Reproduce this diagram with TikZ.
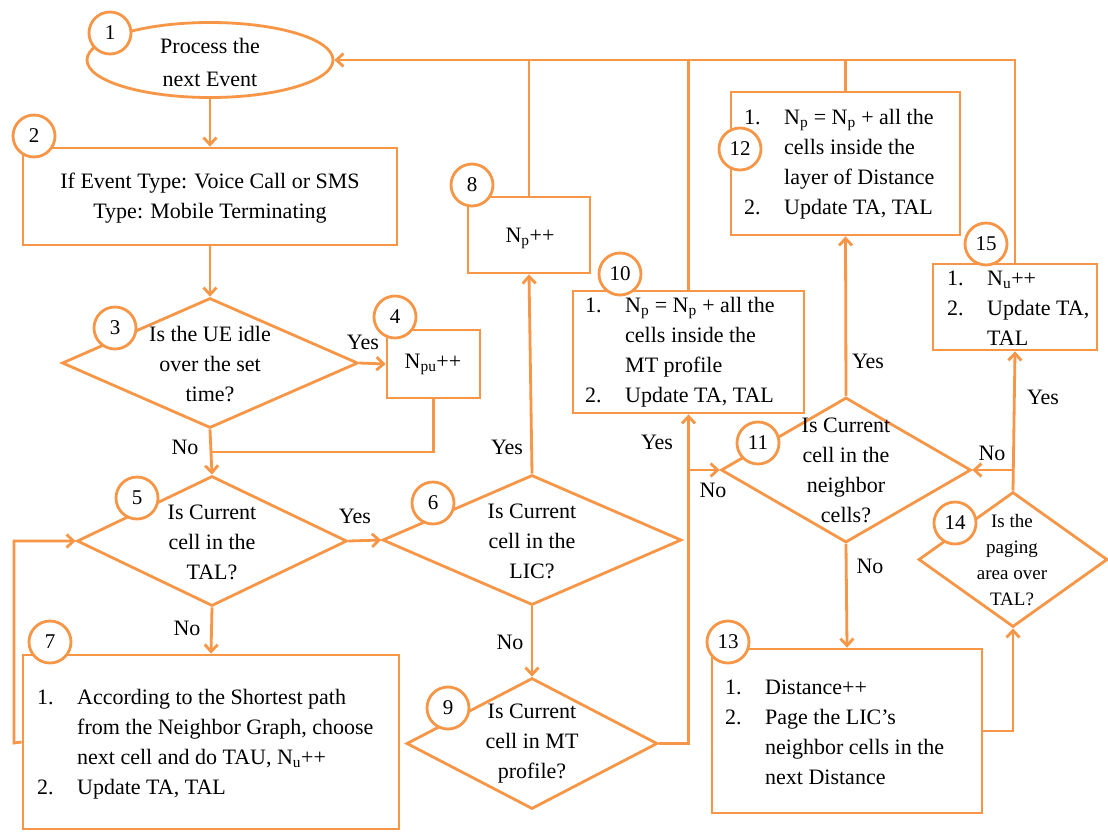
\documentclass[tikz,border=0pt]{standalone}
\usepackage{fontspec}
\setmainfont{Liberation Serif}
\usetikzlibrary{shapes.geometric,arrows.meta}
\definecolor{fc}{HTML}{F79646}
\newcommand\itno[1]{\makebox[40pt][l]{#1}}
\newcommand\ind{\hspace*{40pt}}
\begin{document}
\begin{tikzpicture}[x=1pt,y=-1pt,
  ln/.style={draw=fc,line width=2.8pt},
  arr/.style={ln,-{Straight Barb[length=7pt,width=13pt]}},
  box/.style={draw=fc,line width=2.8pt,rectangle,inner sep=0pt,fill=white},
  dia/.style={draw=fc,line width=2.8pt,diamond,inner sep=0pt,fill=white},
  oval/.style={draw=fc,line width=2.8pt,ellipse,inner sep=0pt,fill=white},
  num/.style={draw=fc,line width=2.8pt,circle,fill=white,minimum size=42pt,inner sep=0pt,font=\fontsize{21}{21}\selectfont},
  txt/.style={inner sep=0pt,align=center,font=\fontsize{22}{30}\selectfont},
  lst/.style={inner sep=0pt,align=left,anchor=west,font=\fontsize{22}{30}\selectfont},
  lbl/.style={inner sep=0pt,font=\fontsize{22}{26}\selectfont}]
\useasboundingbox[fill=white] (0,0) rectangle (1108,831);

% shapes
\node[oval,minimum width=246pt,minimum height=75pt] (e1) at (210,60) {};
\node[box,minimum width=374pt,minimum height=97pt] (b2) at (210,196.5) {};
\node[dia,minimum width=296pt,minimum height=130pt] (d3) at (210,363) {};
\node[box,minimum width=93pt,minimum height=68pt] (b4) at (433.5,364) {};
\node[dia,minimum width=270pt,minimum height=130pt] (d5) at (212,541) {};
\node[dia,minimum width=299pt,minimum height=130pt] (d6) at (532,540) {};
\node[box,minimum width=376pt,minimum height=174pt] (b7) at (211,742) {};
\node[box,minimum width=122pt,minimum height=76pt] (b8) at (529,235) {};
\node[dia,minimum width=251pt,minimum height=131pt] (d9) at (532,743.5) {};
\node[box,minimum width=231pt,minimum height=122pt] (b10) at (688.5,352) {};
\node[dia,minimum width=250pt,minimum height=145pt] (d11) at (846,470) {};
\node[box,minimum width=229pt,minimum height=143pt] (b12) at (845.5,163.5) {};
\node[box,minimum width=270pt,minimum height=164pt] (b13) at (847,731) {};
\node[dia,minimum width=189pt,minimum height=135pt] (d14) at (1013,559.5) {};
\node[box,minimum width=164pt,minimum height=86pt] (b15) at (1015,307) {};

% connectors
\coordinate (j3) at (210,452);
\coordinate (l7) at (14,743);
\draw[arr] (e1.south) -- (b2.north);
\draw[arr] (b2.south) -- (d3.north);
\draw[arr] (d3.east) -- (b4.west);
\draw[arr] (d3.south) -- (d5.north);
\draw[ln] (b4.south) |- (j3);
\draw[arr] (d5.east) -- (d6.west);
\draw[arr] (d5.south) -- (b7.north);
\draw[arr] (b7.west) -- (l7) |- (d5.west);
\draw[arr] (d6.north) -- (b8.south);
\draw[arr] (d6.south) -- (d9.north);
\draw[arr] (d9.east) -| (b10.south);
\draw[arr] (b10.south |- d11.west) -- (d11.west);
\draw[arr] (d11.north) -- (b12.south);
\draw[arr] (d11.south) -- (b13.north);
\draw[arr] (b13.east) -| (d14.south);
\draw[arr] (d14.north) -- (b15.south);
\draw[arr] (d14.north |- d11.east) -- (d11.east);
\draw[arr] (b15.north) |- (e1.east);
\draw[ln] (b8.north) -- (b8.north |- e1.east);
\draw[ln] (b10.north) -- (b10.north |- e1.east);
\draw[ln] (b12.north) -- (b12.north |- e1.east);

% step numbers
\node[num] (n1) at (110,33) {1};
\node[num] (n2) at (34,136) {2};
\node[num] (n3) at (115,328) {3};
\node[num] (n4) at (395,317) {4};
\node[num] (n5) at (137,498) {5};
\node[num] (n6) at (433,503) {6};
\node[num] (n7) at (50,642) {7};
\node[num] (n8) at (472,185) {8};
\node[num] (n9) at (448,708) {9};
\node[num] (n10) at (620,274) {10};
\node[num] (n11) at (758,443) {11};
\node[num] (n12) at (740,149) {12};
\node[num] (n13) at (728,642) {13};
\node[num] (n14) at (955,523) {14};
\node[num] (n15) at (986,244) {15};

% texts
\node[txt,font=\fontsize{22}{33}\selectfont] (t1) at (210,62) {Process the\\next Event};
\node[txt] (t2) at (210,198) {If Event Type: Voice Call or SMS\\Type: Mobile Terminating};
\node[txt] (t3) at (210,364) {Is the UE idle\\over the set\\time?};
\node[txt] (t4) at (433,364) {N\textsubscript{pu}++};
\node[txt] (t5) at (212,542) {Is Current\\cell in the\\TAL?};
\node[txt] (t6) at (532,541) {Is Current\\cell in the\\LIC?};
\node[lst] (t7) at (37,744) {\itno{1.}According to the Shortest path\\
  \ind from the Neighbor Graph, choose\\
  \ind next cell and do TAU, N\textsubscript{u}++\\
  \itno{2.}Update TA, TAL};
\node[txt] (t8) at (530,238) {N\textsubscript{p}++};
\node[txt] (t9) at (532,744) {Is Current\\cell in MT\\profile?};
\node[lst] (t10) at (585,352) {\itno{1.}N\textsubscript{p} = N\textsubscript{p} + all the\\
  \ind cells inside the\\
  \ind MT profile\\
  \itno{2.}Update TA, TAL};
\node[txt] (t11) at (846,470) {Is Current\\cell in the\\neighbor\\cells?};
\node[lst] (t12) at (744,164) {\itno{1.}N\textsubscript{p} = N\textsubscript{p} + all the\\
  \ind cells inside the\\
  \ind layer of Distance\\
  \itno{2.}Update TA, TAL};
\node[lst] (t13) at (725,732) {\itno{1.}Distance++\\
  \itno{2.}Page the LIC’s\\
  \ind neighbor cells in the\\
  \ind next Distance};
\node[txt,font=\fontsize{19}{26}\selectfont] (t14) at (1012,560) {Is the\\paging\\area over\\TAL?};
\node[lst] (t15) at (947,308) {\itno{1.}N\textsubscript{u}++\\
  \itno{2.}Update TA,\\
  \ind TAL};

% branch labels
\node[lbl] (y3) at (363,342) {Yes};
\node[lbl] (o3) at (185,447) {No};
\node[lbl] (y5) at (355,516) {Yes};
\node[lbl] (o5) at (187,628) {No};
\node[lbl] (y6) at (507,447) {Yes};
\node[lbl] (o6) at (510,642) {No};
\node[lbl] (y9) at (657,442) {Yes};
\node[lbl] (o9) at (713,490) {No};
\node[lbl] (y11) at (868,361) {Yes};
\node[lbl] (o11) at (870,566) {No};
\node[lbl] (y14) at (1043,397) {Yes};
\node[lbl] (o14) at (992,453) {No};
\end{tikzpicture}
\end{document}
